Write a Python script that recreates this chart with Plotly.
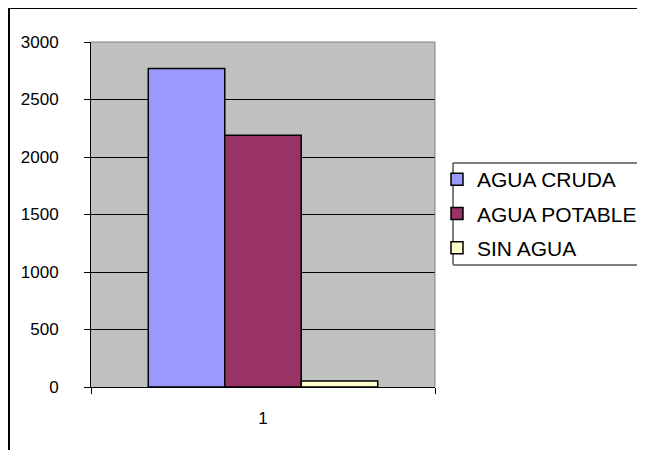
import plotly.graph_objects as go

categories = ["1"]
series_names = ["AGUA CRUDA", "AGUA POTABLE", "SIN AGUA"]
agua_cruda = [2770]
agua_potable = [2190]
sin_agua = [52]
series_values = [agua_cruda, agua_potable, sin_agua]
colors = ["#9999FF", "#993366", "#FFFFCC"]
y_ticks = [0, 500, 1000, 1500, 2000, 2500, 3000]

OFF = 8  # page body margin
W, H = 645 - OFF, 450 - OFF
L, R, T, B = 91 - OFF, 210, 42 - OFF, 63
pw, ph = W - L - R, H - T - B

def px(x):
    return (x - OFF - L) / pw

def py(y):
    return (T + ph - (y - OFF)) / ph

fig = go.Figure()
for i, (name, vals, c) in enumerate(zip(series_names, series_values, colors)):
    fig.add_trace(go.Bar(
        x=categories, y=vals, name=name, legendgroup=name,
        marker=dict(color=c, line=dict(color="black", width=1.5)),
    ))

font = dict(family="Liberation Sans, Arial, sans-serif", size=17, color="black")

fig.update_layout(
    width=W, height=H,
    margin=dict(l=L, r=R, t=T, b=B, pad=0, autoexpand=False),
    paper_bgcolor="white", plot_bgcolor="#C0C0C0",
    barmode="group", bargap=0.333, bargroupgap=0,
    font=font,
    showlegend=True,
    legend=dict(
        x=px(437), y=py(159), xanchor="left", yanchor="top",
        bgcolor="rgba(0,0,0,0)", borderwidth=0,
        font=dict(family="Liberation Sans, Arial, sans-serif", size=21, color="black"),
        tracegroupgap=4, itemwidth=30,
    ),
    xaxis=dict(
        type="category", tickson="boundaries", ticks="outside", ticklen=6,
        tickcolor="black", showline=True, linecolor="black", linewidth=1,
        showgrid=False, ticklabelstandoff=16, range=[-0.5, 0.5],
    ),
    yaxis=dict(
        range=[0, 3000], tickvals=y_ticks, ticks="outside", ticklen=6,
        tickcolor="black", showline=True, linecolor="black", linewidth=1,
        showgrid=True, gridcolor="black", gridwidth=1, zeroline=False,
        ticklabelstandoff=22,
    ),
    shapes=[
        dict(type="line", xref="paper", yref="paper", x0=0, x1=1, y0=1, y1=1,
             line=dict(color="#808080", width=1)),
        dict(type="line", xref="paper", yref="paper", x0=1, x1=1, y0=0, y1=1,
             line=dict(color="#808080", width=1)),
        dict(type="line", xref="paper", yref="paper", x0=px(9), x1=px(660), y0=py(8), y1=py(8),
             line=dict(color="black", width=2)),
        dict(type="line", xref="paper", yref="paper", x0=px(9), x1=px(9), y0=py(8), y1=py(465),
             line=dict(color="black", width=2)),
        dict(type="line", xref="paper", yref="paper", x0=px(453), x1=px(660), y0=py(163), y1=py(163),
             line=dict(color="black", width=1)),
        dict(type="line", xref="paper", yref="paper", x0=px(453), x1=px(453), y0=py(163), y1=py(265),
             line=dict(color="black", width=1)),
        dict(type="line", xref="paper", yref="paper", x0=px(453), x1=px(660), y0=py(265), y1=py(265),
             line=dict(color="#808080", width=2)),
    ],
)

fig.write_html("out.html")
